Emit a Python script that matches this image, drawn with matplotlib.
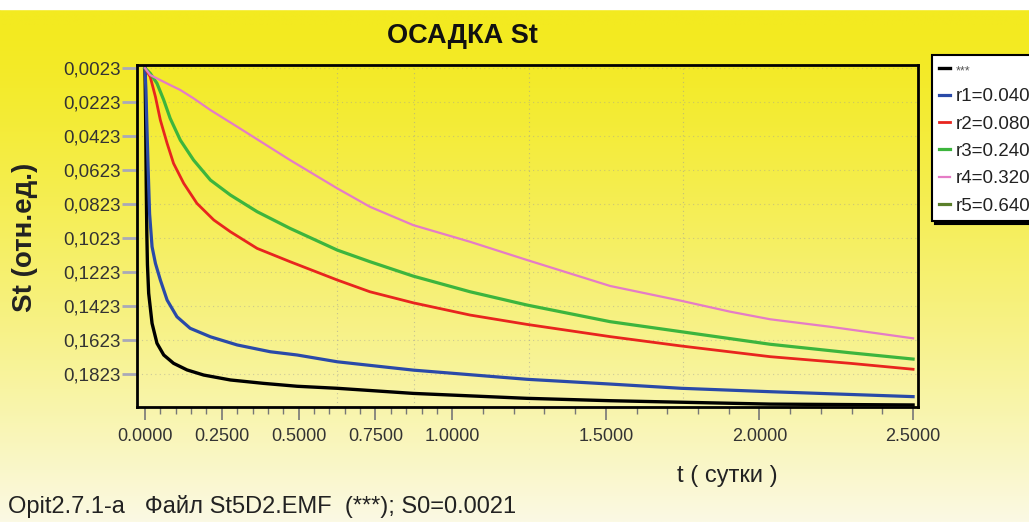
import numpy as np
import matplotlib
matplotlib.use("Agg")
import matplotlib.pyplot as plt
from matplotlib.ticker import FixedLocator, FuncFormatter

plt.rcParams['font.family'] = ['Liberation Sans', 'DejaVu Sans']

# ---------------- data ----------------
title = "ОСАДКА St"
ylabel = "St (отн.ед.)"
xlabel = "t ( сутки )"
footer = "Opit2.7.1-a   Файл St5D2.EMF  (***); S0=0.0021"

labels = ["***", "r1=0.040", "r2=0.080", "r3=0.240", "r4=0.320", "r5=0.640"]

t_black = [0, 0.002, 0.004, 0.006, 0.008, 0.012, 0.023, 0.039, 0.061, 0.093, 0.137,
           0.191, 0.278, 0.386, 0.495, 0.626, 0.873, 1.243, 1.514, 1.774, 2.035, 2.5]
s_black = [0.0023, 0.03, 0.07, 0.10, 0.118, 0.1348, 0.1525, 0.1642, 0.1711, 0.1760, 0.1799,
           0.1829, 0.1858, 0.1878, 0.1895, 0.1907, 0.1937, 0.1966, 0.1980, 0.1990, 0.2000, 0.2005]

t_r1 = [0, 0.003, 0.006, 0.01, 0.015, 0.023, 0.034, 0.050, 0.072, 0.104, 0.147, 0.213,
        0.300, 0.408, 0.495, 0.626, 0.873, 1.243, 1.514, 1.745, 2.035, 2.5]
s_r1 = [0.0023, 0.015, 0.035, 0.06, 0.088, 0.1074, 0.1172, 0.1270, 0.1388, 0.1486, 0.1554, 0.1604,
        0.1652, 0.1692, 0.1711, 0.1751, 0.1800, 0.1854, 0.1882, 0.1907, 0.1927, 0.1956]

t_r2 = [0, 0.017, 0.034, 0.050, 0.072, 0.093, 0.126, 0.169, 0.224, 0.278, 0.365, 0.472,
        0.626, 0.732, 0.873, 1.058, 1.243, 1.514, 1.745, 2.035, 2.295, 2.5]
s_r2 = [0.0023, 0.0074, 0.0192, 0.0329, 0.0466, 0.0584, 0.0701, 0.0819, 0.0917, 0.0986, 0.1084, 0.1162,
        0.1270, 0.1339, 0.1404, 0.1476, 0.1531, 0.1603, 0.1658, 0.1721, 0.1760, 0.1795]

t_r3 = [0, 0.017, 0.039, 0.061, 0.082, 0.115, 0.158, 0.213, 0.278, 0.365, 0.472, 0.626,
        0.732, 0.873, 1.058, 1.243, 1.514, 1.745, 2.035, 2.295, 2.5]
s_r3 = [0.0023, 0.0054, 0.0113, 0.0211, 0.0319, 0.0447, 0.0564, 0.0682, 0.0770, 0.0868, 0.0966, 0.1094,
        0.1162, 0.1247, 0.1339, 0.1417, 0.1515, 0.1574, 0.1648, 0.1698, 0.1735]

t_r4 = [0, 0.017, 0.050, 0.082, 0.115, 0.158, 0.213, 0.300, 0.386, 0.472, 0.626, 0.732,
        0.873, 1.058, 1.243, 1.383, 1.514, 1.745, 1.904, 2.035, 2.23, 2.5]
s_r4 = [0.0023, 0.0064, 0.0094, 0.0123, 0.0152, 0.0201, 0.0270, 0.0368, 0.0466, 0.0564, 0.0731, 0.0839,
        0.0947, 0.1045, 0.1152, 0.1231, 0.1305, 0.1392, 0.1456, 0.1501, 0.1545, 0.1613]

# r5 curve is not visible in the picture (legend entry only)
t_r5 = []
s_r5 = []

y_ticks = [0.0023, 0.0223, 0.0423, 0.0623, 0.0823, 0.1023, 0.1223, 0.1423, 0.1623, 0.1823]
x_major = [0.0, 0.25, 0.5, 0.75, 1.0, 1.5, 2.0, 2.5]

# ---------------- figure ----------------
W, H = 1029, 522
fig = plt.figure(figsize=(W / 100, H / 100), dpi=100)

# gradient background
bg = fig.add_axes([0, 0, 1, 1], zorder=-10)
ny = 400
v = np.linspace(0, 1, ny)[:, None]        # 0 top -> 1 bottom
top = np.array([243, 234, 32]) / 255.0
bot = np.array([251, 249, 228]) / 255.0
w = np.clip((v - 0.05) / 0.95, 0, 1) ** 1.3
grad = top[None, None, :] * (1 - w[..., None]) + bot[None, None, :] * w[..., None]
grad = np.repeat(grad, 4, axis=1)
bg.imshow(grad, aspect='auto', extent=[0, 1, 0, 1], origin='upper')
bg.fill_between([0, 1], 1 - 9 / H, 1, color='white')
bg.set_xlim(0, 1); bg.set_ylim(0, 1)
bg.axis('off')

ax = fig.add_axes([137 / W, 1 - 407 / H, (918 - 137) / W, (407 - 65) / H])
ax.set_facecolor('none')

series = [
    (t_black, s_black, '#000000', 2.4),
    (t_r1, s_r1, '#2A4AA8', 2.3),
    (t_r2, s_r2, '#E8251E', 2.0),
    (t_r3, s_r3, '#3DB53D', 2.3),
    (t_r4, s_r4, '#E57CC6', 1.6),
    (t_r5, s_r5, '#5A7F2A', 2.3),
]
handles = []
for (tt, ss, c, lw), lab in zip(series, labels):
    h, = ax.plot(tt, ss, color=c, lw=lw, label=lab, solid_joinstyle='round')
    handles.append(h)

ax.set_xlim(-0.026, 2.516)
ax.set_ylim(0.2017, 0.0005)

ax.yaxis.set_major_locator(FixedLocator(y_ticks))
ax.yaxis.set_major_formatter(FuncFormatter(lambda v, p: f"{v:.4f}".replace('.', ',')))
ax.xaxis.set_major_locator(FixedLocator(x_major))
ax.xaxis.set_major_formatter(FuncFormatter(lambda v, p: f"{v:.4f}"))
minor_x = [i * 0.05 for i in range(21)] + [1.0 + i * 0.1 for i in range(1, 16)]
ax.xaxis.set_minor_locator(FixedLocator(minor_x))

ax.tick_params(axis='y', which='major', length=11, width=2, color='#A9A9B8',
               labelsize=13.5, pad=1, labelcolor='#333333')
ax.tick_params(axis='x', which='major', length=9, width=1.2, color='#777777',
               labelsize=13, pad=6, labelcolor='#333333')
ax.tick_params(axis='x', which='minor', length=5, width=1, color='#777777')

for s in ax.spines.values():
    s.set_color('black')
    s.set_linewidth(2.0)

# faint dotted grid
for yv in y_ticks:
    ax.axhline(yv, color='#9A9A9A', lw=0.8, ls=(0, (1, 3)), alpha=0.45, zorder=0)
for xv in [0.625, 0.875, 1.25, 1.75]:
    ax.axvline(xv, color='#9A9A9A', lw=0.8, ls=(0, (1, 3)), alpha=0.55, zorder=0)

fig.text(462 / W, 1 - 36 / H, title, fontsize=19.5, fontweight='bold',
         ha='center', va='center', color='#111111')
fig.text(25 / W, 1 - 237 / H, ylabel, fontsize=20, fontweight='bold', rotation=90,
         ha='center', va='center', color='#222222')
fig.text(727 / W, 1 - 476 / H, xlabel, fontsize=17, ha='center', va='center', color='#222222')
fig.text(8 / W, 1 - 506 / H, footer, fontsize=17, ha='left', va='center', color='#222222')

leg = fig.legend(handles=handles, labels=labels, loc='upper left',
                 bbox_to_anchor=(932 / W, 1 - 55 / H), frameon=True, fancybox=False,
                 shadow={'color': 'black', 'alpha': 1.0}, fontsize=13.5,
                 handlelength=0.6, handletextpad=0.3, labelspacing=0.55,
                 borderpad=0.35, borderaxespad=0)
leg.get_frame().set_edgecolor('black')
leg.get_frame().set_linewidth(1.5)
leg.get_frame().set_facecolor('white')
for txt, c in zip(leg.get_texts(), ['#555555'] + ['#222222'] * 5):
    txt.set_color(c)
leg.get_texts()[0].set_fontsize(9)

fig.savefig('out.png', dpi=100)
